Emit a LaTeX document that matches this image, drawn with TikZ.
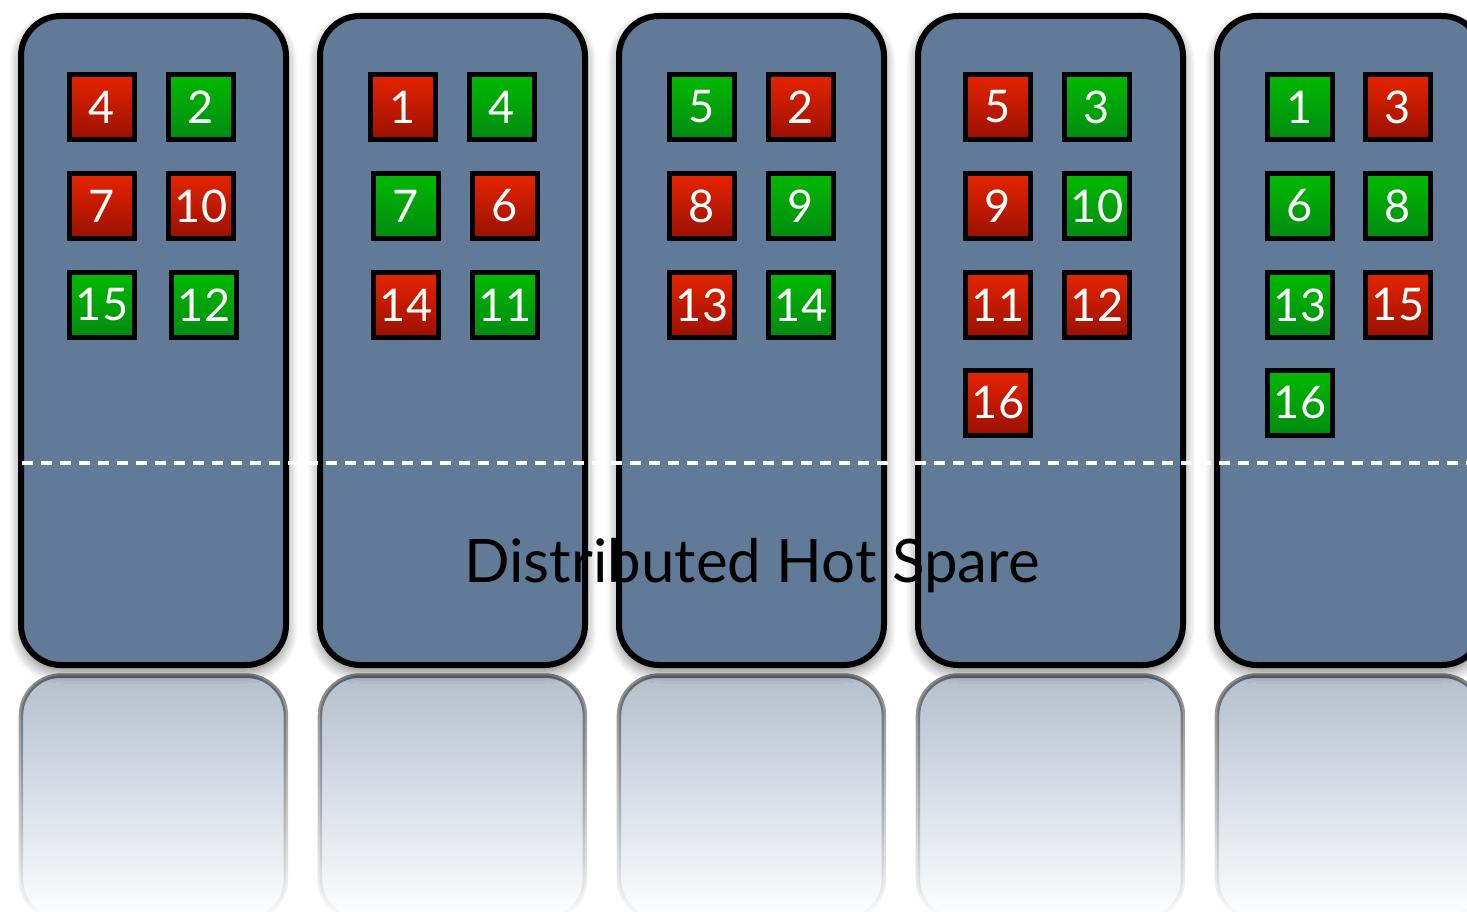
\documentclass[tikz,border=0pt]{standalone}
\usepackage{fontspec}
\setmainfont{Lato}
\usetikzlibrary{shadows.blur,fadings}

\definecolor{diskblue}{HTML}{607A97}
\definecolor{redtop}{HTML}{E62400}
\definecolor{redbot}{HTML}{9A1000}
\definecolor{greentop}{HTML}{00BA00}
\definecolor{greenbot}{HTML}{008A12}

% mirror image under each disk fades out downwards
\tikzfading[name=reflfade, top color=transparent!52, bottom color=transparent!100]

\begin{document}
\begin{tikzpicture}[x=1pt, y=-1pt,
  disk/.style={draw=black, line width=6pt, fill=diskblue, rounded corners=40pt,
    minimum width=265pt, minimum height=649pt, inner sep=0pt,
    blur shadow={shadow xshift=0pt, shadow yshift=-6pt, shadow blur radius=12pt,
      shadow blur steps=10, shadow opacity=55}},
  refl/.style={draw=black, line width=4.5pt, fill=diskblue, rounded corners=40pt,
    minimum width=265pt, minimum height=244pt, inner sep=0pt,
    path fading=reflfade, fit fading=true},
  cell/.style={draw=black, line width=5pt, minimum size=65pt, inner sep=0pt,
    text=white, font=\fontsize{45}{45}\selectfont},
  redbox/.style={cell, top color=redtop, bottom color=redbot},
  greenbox/.style={cell, top color=greentop, bottom color=greenbot},
  title/.style={font=\fontsize{60}{60}\selectfont, text=black, inner sep=0pt},
  spareline/.style={draw=white, line width=4.5pt, dash pattern=on 11pt off 8pt}
]
\useasboundingbox (0,0) rectangle (1467,912);

% reflections
\foreach \n/\x in {1/153.5, 2/452.5, 3/751.5, 4/1050.5, 5/1349.5}
  \node[refl] (r\n) at (\x,797.5) {};

% disks
\foreach \n/\x in {1/153.5, 2/452.5, 3/751.5, 4/1050.5, 5/1349.5}
  \node[disk] (d\n) at (\x,340.5) {};

% disk 1
\node[redbox]   (a1) at (102,107) {4};
\node[greenbox] (a2) at (201,107) {2};
\node[redbox]   (a3) at (102,206) {7};
\node[redbox]   (a4) at (201,206) {10};
\node[greenbox] (a5) at (102,305) {15};
\node[greenbox] (a6) at (204,305) {12};

% disk 2
\node[redbox]   (b1) at (403,107) {1};
\node[greenbox] (b2) at (502,107) {4};
\node[greenbox] (b3) at (406,206) {7};
\node[redbox]   (b4) at (505,206) {6};
\node[redbox]   (b5) at (406,305) {14};
\node[greenbox] (b6) at (505,305) {11};

% disk 3
\node[greenbox] (c1) at (702,107) {5};
\node[redbox]   (c2) at (801,107) {2};
\node[redbox]   (c3) at (702,206) {8};
\node[greenbox] (c4) at (801,206) {9};
\node[redbox]   (c5) at (702,305) {13};
\node[greenbox] (c6) at (801,305) {14};

% disk 4
\node[redbox]   (e1) at (998,107) {5};
\node[greenbox] (e2) at (1097,107) {3};
\node[redbox]   (e3) at (998,206) {9};
\node[greenbox] (e4) at (1097,206) {10};
\node[redbox]   (e5) at (998,305) {11};
\node[redbox]   (e6) at (1097,305) {12};
\node[redbox]   (e7) at (998,403) {16};

% disk 5
\node[greenbox] (f1) at (1300,107) {1};
\node[redbox]   (f2) at (1398,107) {3};
\node[greenbox] (f3) at (1300,206) {6};
\node[greenbox] (f4) at (1398,206) {8};
\node[greenbox] (f5) at (1300,305) {13};
\node[redbox]   (f6) at (1398,305) {15};
\node[greenbox] (f7) at (1300,403) {16};

% boundary of the spare area
\coordinate (sl) at (22,463);
\coordinate (sr) at (1467,463);
\draw[spareline] (sl) -- (sr);

% spare area label
\node[title, anchor=base] (hs) at (752,582) {Distributed Hot Spare};
\end{tikzpicture}
\end{document}
